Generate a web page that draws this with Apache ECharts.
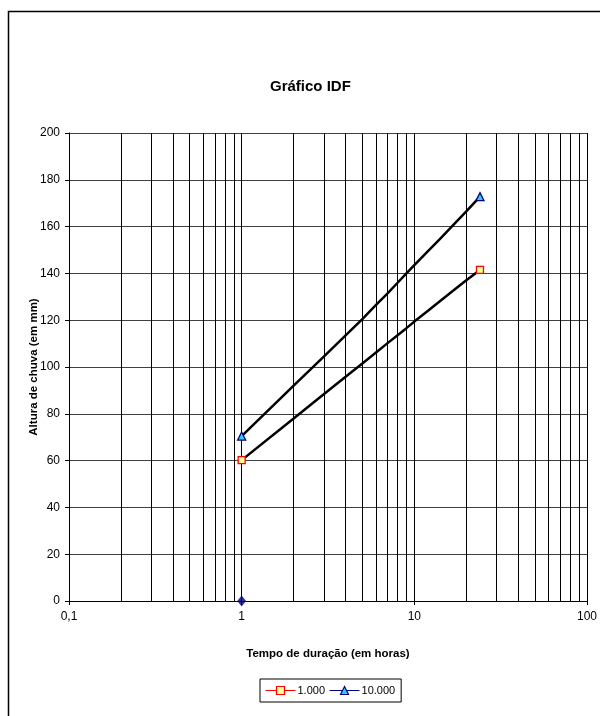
<!DOCTYPE html>
<html>
<head>
<meta charset="utf-8">
<script src="https://cdn.jsdelivr.net/npm/echarts@6/dist/echarts.min.js"></script>
<style>
html,body{margin:0;padding:0;background:#fff;}
#c{width:600px;height:716px;}
</style>
</head>
<body>
<div id="c"></div>
<script>
// Durations (hours) and rainfall depths (mm)
var hours = [1, 2, 3, 4, 5, 6, 7, 8, 9, 10, 12, 14, 16, 18, 20, 24];
var depth1000 = [60.2, 78, 88.5, 95.8, 101.5, 106.2, 110.2, 113.6, 116.6, 119.4, 124, 128, 131.4, 134.4, 137.1, 141.5];
var depth10000 = [70.5, 92, 104.5, 113.5, 120.5, 126.5, 131.5, 136, 140, 143.5, 149.5, 154.5, 159, 163, 166.5, 172.8];
var extraPoint = [[1, 0]];
var seriesNames = ['1.000', '10.000'];
var minorGridX = [0.2,0.3,0.4,0.5,0.6,0.7,0.8,0.9,2,3,4,5,6,7,8,9,20,30,40,50,60,70,80,90];
var yTicks = {min: 0, max: 200, interval: 20};

function pairs(xs, ys){ return xs.map(function(x,i){ return [x, ys[i]]; }); }
var last = hours.length - 1;
function endSize(sz){ return function(v, p){ return (p && (p.dataIndex === 0 || p.dataIndex === last)) ? sz : 0; }; }

var font = '"Liberation Sans", Arial, sans-serif';
var chart = echarts.init(document.getElementById('c'), null, {renderer: 'canvas'});
chart.setOption({
  animation: false,
  backgroundColor: '#fff',
  textStyle: {fontFamily: font},
  graphic: [{
    type: 'rect', z: -10, silent: true,
    shape: {x: 8.5, y: 11.5, width: 700, height: 800},
    style: {fill: 'none', stroke: '#000', lineWidth: 1.5}
  }],
  title: {
    text: 'Gráfico IDF', left: 265, top: 74,
    textStyle: {fontFamily: font, fontSize: 15, fontWeight: 'bold', color: '#000'}
  },
  legend: {
    data: [
      {name: seriesNames[0], itemStyle: {color: '#ffff99', borderColor: '#ff0000', borderWidth: 1.2}, lineStyle: {color: '#ff0000', width: 1}},
      {name: seriesNames[1], itemStyle: {color: '#33ccff', borderColor: '#000080', borderWidth: 1.2}, lineStyle: {color: '#000080', width: 1}}
    ],
    left: 260, top: 679,
    itemWidth: 30, itemHeight: 10, itemGap: 4,
    borderColor: '#000', borderWidth: 1, padding: [6, 6, 6, 5],
    textStyle: {fontFamily: font, fontSize: 11, color: '#000', padding: [0,0,0,-3]}
  },
  grid: {left: 69, right: 13, top: 133, bottom: 115, containLabel: false},
  xAxis: {
    type: 'log', logBase: 10, min: 0.1, max: 100,
    name: 'Tempo de duração (em horas)', nameLocation: 'middle', nameGap: 47, nameMoveOverlap: false,
    nameTextStyle: {fontFamily: font, fontSize: 11.5, fontWeight: 'bold', color: '#000'},
    axisLine: {onZero: false, lineStyle: {color: '#000', width: 1}},
    axisTick: {show: true, length: 4, lineStyle: {color: '#000'}},
    axisLabel: {fontFamily: font, fontSize: 12, color: '#000', margin: 10,
      formatter: function(v){ return String(+v.toPrecision(3)).replace('.', ','); }},
    splitLine: {show: true, lineStyle: {color: '#000', width: 1}},
    minorTick: {show: false}
  },
  yAxis: {
    type: 'value', min: yTicks.min, max: yTicks.max, interval: yTicks.interval,
    name: 'Altura de chuva (em mm)', nameLocation: 'middle', nameGap: 29, nameRotate: 90, nameMoveOverlap: false,
    nameTextStyle: {fontFamily: font, fontSize: 11.5, fontWeight: 'bold', color: '#000'},
    axisLine: {show: true, lineStyle: {color: '#000', width: 1}},
    axisTick: {show: true, length: 4, lineStyle: {color: '#000'}},
    axisLabel: {fontFamily: font, fontSize: 12, color: '#000', margin: 9},
    splitLine: {show: true, lineStyle: {color: '#404040', width: 1}}
  },
  series: [
    {
      name: 'grid-minor', type: 'line', data: [], silent: true,
      markLine: {
        silent: true, symbol: ['none', 'none'], label: {show: false},
        lineStyle: {color: '#000', width: 1, type: 'solid'},
        data: minorGridX.map(function(x){ return {xAxis: x}; })
      }
    },
    {
      name: seriesNames[0], type: 'line', data: pairs(hours, depth1000),
      symbol: 'rect', symbolSize: endSize(7), showSymbol: true, showAllSymbol: true,
      lineStyle: {color: '#000', width: 2.5},
      itemStyle: {color: '#ffff99', borderColor: '#ff0000', borderWidth: 1.3},
      z: 5
    },
    {
      name: seriesNames[1], type: 'line', data: pairs(hours, depth10000),
      symbol: 'triangle', symbolSize: endSize(8), showSymbol: true, showAllSymbol: true,
      lineStyle: {color: '#000', width: 2.5},
      itemStyle: {color: '#33ccff', borderColor: '#000080', borderWidth: 1.3},
      z: 5
    },
    {
      name: 'ponto', type: 'scatter', data: extraPoint, symbol: 'diamond', symbolSize: [9, 11],
      itemStyle: {color: '#000080'}, clip: false, z: 6
    }
  ]
});
</script>
</body>
</html>
